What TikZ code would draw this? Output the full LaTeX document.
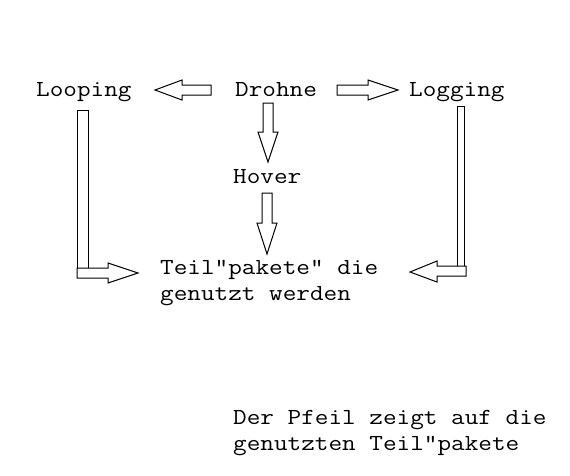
\documentclass[tikz,border=0pt]{standalone}
\usepackage{fontspec}
\begin{document}
\begin{tikzpicture}[x=1pt,y=-1pt,
  lbl/.style={inner sep=0pt,anchor=base west,font=\ttfamily\fontsize{23}{26}\selectfont,align=left,xscale=1.15,transform shape},
  blockarrow/.style={draw=black,line width=1pt,fill=white,line join=miter}]
\useasboundingbox (0,0) rectangle (570,475);
% labels (multi-line nodes: base = last line)
\node[lbl] (looping) at (36,96) {Looping};
\node[lbl] (drohne) at (235,96) {Drohne};
\node[lbl] (logging) at (409,96) {Logging};
\node[lbl] (hover) at (233,183) {Hover};
\node[lbl] (teil) at (160,300) {Teil"pakete" die\\genutzt werden};
\node[lbl] (note) at (233,450) {Der Pfeil zeigt auf die\\genutzten Teil"pakete};
% Drohne -> Looping
\draw[blockarrow] (211,85) -- (182,85) -- (182,80) -- (155,90) -- (182,100) -- (182,95) -- (211,95) -- cycle;
% Drohne -> Logging
\draw[blockarrow] (337,85) -- (368,85) -- (368,80) -- (398,90) -- (368,100) -- (368,95) -- (337,95) -- cycle;
% Drohne -> Hover
\draw[blockarrow] (263,103) -- (273,103) -- (273,132) -- (278,132) -- (268,162) -- (258,132) -- (263,132) -- cycle;
% Hover -> Teilpakete
\draw[blockarrow] (262,193) -- (272,193) -- (272,223) -- (277,223) -- (267,254) -- (257,223) -- (262,223) -- cycle;
% Looping -> Teilpakete
\draw[blockarrow] (77,110) rectangle (88,268);
\draw[blockarrow] (77,268) -- (108,268) -- (108,263) -- (138,273) -- (108,283) -- (108,278) -- (77,278) -- cycle;
% Logging -> Teilpakete
\draw[blockarrow] (457,106) rectangle (464,266);
\draw[blockarrow] (466,266) -- (437,266) -- (437,261) -- (410,272) -- (437,282) -- (437,276) -- (466,276) -- cycle;
\end{tikzpicture}
\end{document}
